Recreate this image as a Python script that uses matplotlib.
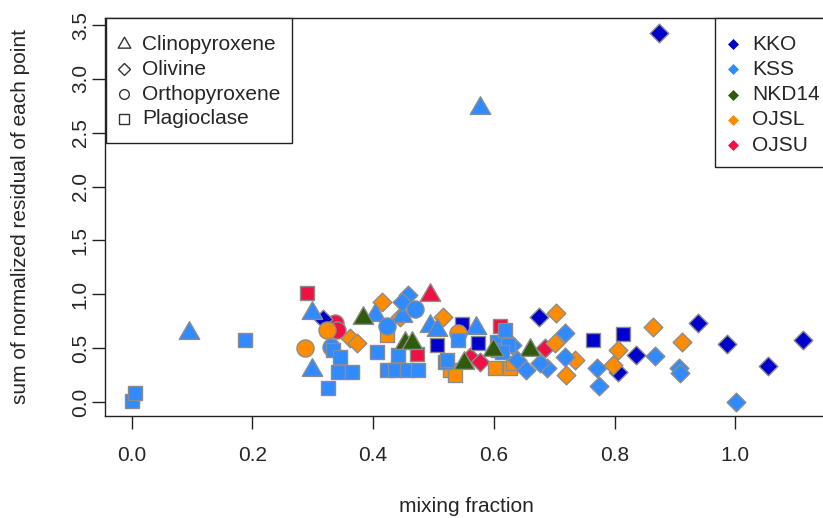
import matplotlib
matplotlib.use("Agg")
import matplotlib.pyplot as plt
from matplotlib.patches import Rectangle
from matplotlib.path import Path

plt.rcParams["font.family"] = ["Liberation Sans", "DejaVu Sans"]

# mineral codes: cpx = Clinopyroxene, ol = Olivine, opx = Orthopyroxene, pl = Plagioclase
mineral_codes = ["cpx", "ol", "opx", "pl"]
mineral_names = ["Clinopyroxene", "Olivine", "Orthopyroxene", "Plagioclase"]

source_names = ["KKO", "KSS", "NKD14", "OJSL", "OJSU"]
source_colors = ["#0000cd", "#2f8bff", "#2e5c0a", "#ff8c00", "#ee1144"]

kko_x = [0.874, 1.113, 1.055, 0.987, 0.939, 0.836, 0.805, 0.674, 0.317,
         0.764, 0.814, 0.548, 0.506, 0.574]
kko_y = [3.43, 0.58, 0.33, 0.54, 0.73, 0.44, 0.28, 0.79, 0.77,
         0.58, 0.63, 0.72, 0.53, 0.55]
kko_min = ["ol", "ol", "ol", "ol", "ol", "ol", "ol", "ol", "ol",
           "pl", "pl", "pl", "pl", "pl"]

kss_x = [0.095, 0.577, 0.299, 0.299, 0.403, 0.448, 0.494, 0.506, 0.571,
         1.001, 0.867, 0.907, 0.909, 0.774, 0.771, 0.718, 0.718, 0.654,
         0.688, 0.677, 0.639, 0.458, 0.448, 0.630,
         0.470, 0.423, 0.330,
         0.0, 0.006, 0.188, 0.325, 0.334, 0.345, 0.342, 0.365, 0.406,
         0.423, 0.436, 0.456, 0.475, 0.441, 0.519, 0.523, 0.541, 0.606,
         0.607, 0.619, 0.624, 0.614]
kss_y = [0.64, 2.73, 0.83, 0.30, 0.81, 0.80, 0.71, 0.67, 0.69,
         0.0, 0.43, 0.32, 0.27, 0.15, 0.32, 0.64, 0.42, 0.30,
         0.32, 0.36, 0.39, 0.99, 0.93, 0.53,
         0.86, 0.71, 0.51,
         0.01, 0.08, 0.58, 0.13, 0.48, 0.42, 0.28, 0.28, 0.46,
         0.30, 0.30, 0.30, 0.30, 0.44, 0.37, 0.39, 0.58, 0.56,
         0.48, 0.67, 0.53, 0.46]
kss_min = ["cpx"] * 9 + ["ol"] * 15 + ["opx"] * 3 + ["pl"] * 22

nkd_x = [0.383, 0.453, 0.465, 0.551, 0.599, 0.660]
nkd_y = [0.78, 0.55, 0.55, 0.36, 0.48, 0.48]
nkd_min = ["cpx"] * 6

ojsl_x = [0.287, 0.324, 0.541,
          0.415, 0.516, 0.362, 0.374, 0.445, 0.703, 0.864, 0.911, 0.806,
          0.798, 0.702, 0.735, 0.720,
          0.423, 0.528, 0.536, 0.602, 0.627, 0.632]
ojsl_y = [0.50, 0.67, 0.64,
          0.93, 0.79, 0.59, 0.55, 0.79, 0.83, 0.70, 0.56, 0.48,
          0.34, 0.55, 0.39, 0.25,
          0.62, 0.30, 0.25, 0.32, 0.32, 0.36]
ojsl_min = ["opx"] * 3 + ["ol"] * 13 + ["pl"] * 6

ojsu_x = [0.494, 0.561, 0.577, 0.685, 0.337, 0.340, 0.291, 0.610, 0.473]
ojsu_y = [0.99, 0.42, 0.37, 0.50, 0.73, 0.67, 1.01, 0.71, 0.45]
ojsu_min = ["cpx", "ol", "ol", "ol", "opx", "opx", "pl", "pl", "pl"]

W, H = 823, 518
FS = 15
TXT = "#262626"


def fx(px):
    return px / W


def fy(py):
    return 1 - py / H


# equilateral triangle centred on its centroid, like R's pch 24
tri = Path([(-1, -0.577), (1, -0.577), (0, 1.155), (-1, -0.577)],
           [Path.MOVETO, Path.LINETO, Path.LINETO, Path.CLOSEPOLY])

fig = plt.figure(figsize=(W / 100, H / 100), dpi=100)
ax = fig.add_axes([fx(105), fy(416), (827 - 105) / W, (416 - 18) / H])
ax.set_xlim(-0.0443, 1.152)
ax.set_ylim(-0.130, 3.565)

markers = {"cpx": tri, "ol": "D", "opx": "o", "pl": "s"}
sizes = {"cpx": 17, "ol": 9.5, "opx": 12.3, "pl": 10.5}

# draw order roughly as in the original
series = [
    ("OJSU", ojsu_x, ojsu_y, ojsu_min),
    ("KKO", kko_x, kko_y, kko_min),
    ("OJSL", ojsl_x, ojsl_y, ojsl_min),
    ("KSS", kss_x, kss_y, kss_min),
    ("NKD14", nkd_x, nkd_y, nkd_min),
]
color_of = dict(zip(source_names, source_colors))

z = 2
for name, xs, ys, mins in series:
    for code in mineral_codes:
        px = [x for x, m in zip(xs, mins) if m == code]
        py = [y for y, m in zip(ys, mins) if m == code]
        if px:
            ax.scatter(px, py, marker=markers[code], s=sizes[code] ** 2,
                       c=color_of[name], edgecolors="#8c8c8c",
                       linewidths=1.0, zorder=z)
    z += 1

ax.set_xticks([0.0, 0.2, 0.4, 0.6, 0.8, 1.0])
ax.set_xticklabels(["0.0", "0.2", "0.4", "0.6", "0.8", "1.0"])
ax.set_yticks([0.0, 0.5, 1.0, 1.5, 2.0, 2.5, 3.0, 3.5])
ax.set_yticklabels(["0.0", "0.5", "1.0", "1.5", "2.0", "2.5", "3.0", "3.5"],
                   rotation=90, va="center")
ax.tick_params(axis="both", direction="out", length=9.4, width=1.0,
               colors="#222222", labelcolor=TXT, labelsize=FS)
ax.tick_params(axis="x", pad=12)
ax.tick_params(axis="y", pad=1.5)
for sp in ax.spines.values():
    sp.set_linewidth(1.0)
    sp.set_color("#222222")

ax.set_xlabel("mixing fraction", fontsize=FS, color=TXT)
ax.set_ylabel("sum of normalized residual of each point", fontsize=FS,
              color=TXT)
ax.xaxis.label.set_va("center")
ax.yaxis.label.set_va("center")
ax.xaxis.set_label_coords(0.5, (416 - 507) / 398)
ax.yaxis.set_label_coords((20 - 105) / 722, 0.5)

# mineral legend (top left)
ax.add_patch(Rectangle((fx(106), fy(143)), (292 - 106) / W, (143 - 18) / H,
                       transform=fig.transFigure, fc="white", ec="#222222",
                       lw=1.0, zorder=20, clip_on=False))
leg_ms = {"cpx": 10.5, "ol": 6.2, "opx": 7, "pl": 7}
for i, (code, label) in enumerate(zip(mineral_codes, mineral_names)):
    yy = fy(44 + i * 25)
    ax.plot([fx(124)], [yy], marker=markers[code], ms=leg_ms[code],
            mfc="none", mec="#333333", mew=1.0, transform=fig.transFigure,
            clip_on=False, zorder=21)
    ax.text(fx(142), yy, label, transform=fig.transFigure, ha="left",
            va="center", fontsize=FS, color=TXT, zorder=21)

# source legend (top right)
ax.add_patch(Rectangle((fx(715), fy(167)), (840 - 715) / W, (167 - 18) / H,
                       transform=fig.transFigure, fc="white", ec="#222222",
                       lw=1.0, zorder=20, clip_on=False))
for i, (name, col) in enumerate(zip(source_names, source_colors)):
    yy = fy(44 + i * 25.3)
    ax.plot([fx(733)], [yy], marker="D", ms=5, mfc=col, mec=col, mew=0.5,
            transform=fig.transFigure, clip_on=False, zorder=21)
    ax.text(fx(752), yy, name, transform=fig.transFigure, ha="left",
            va="center", fontsize=FS, color=TXT, zorder=21)

fig.savefig("out.png", dpi=100)
